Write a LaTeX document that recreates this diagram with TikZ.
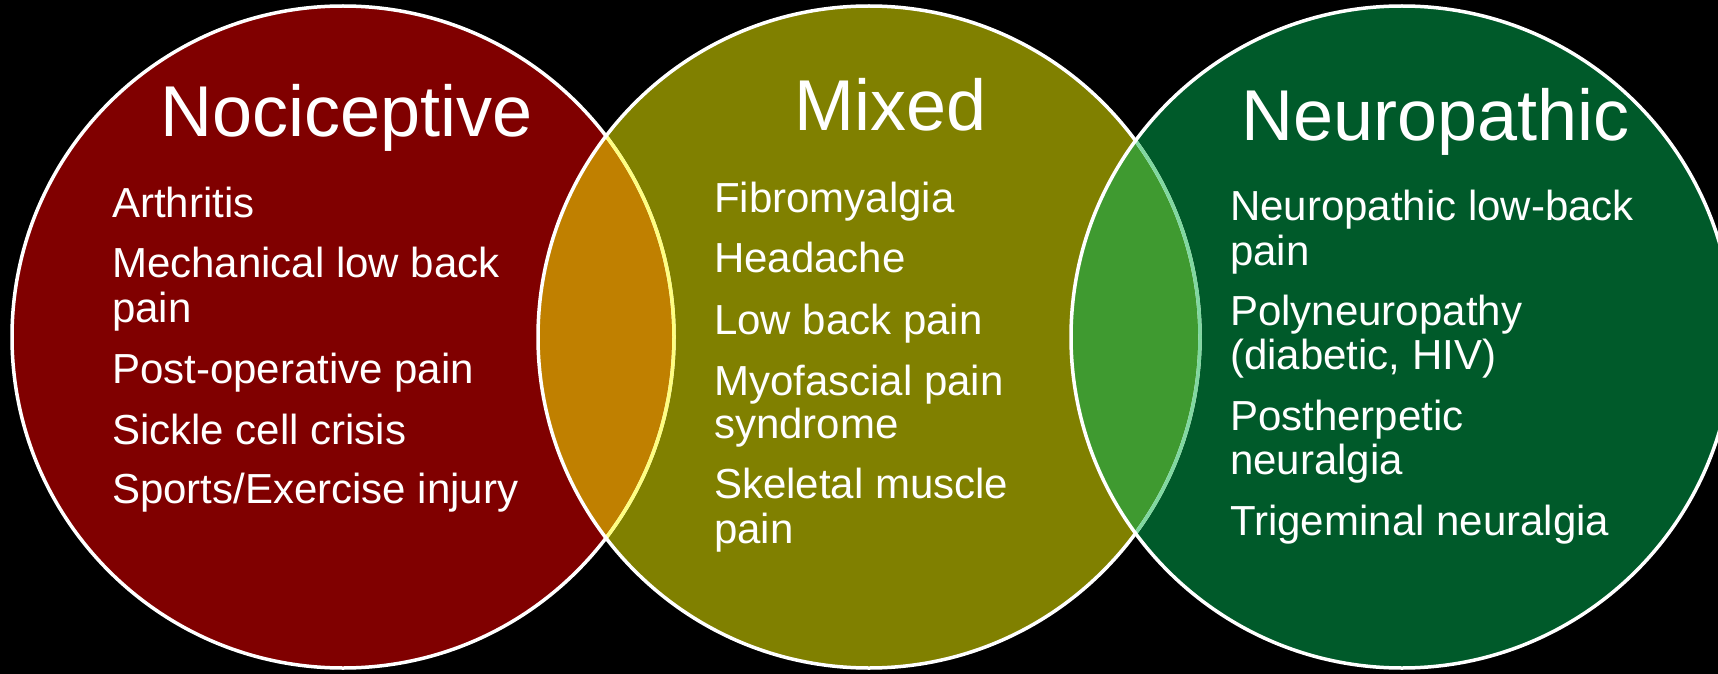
\documentclass[tikz,border=0pt]{standalone}
\usepackage{fontspec}
\setmainfont{Liberation Sans}
\definecolor{nocired}{HTML}{800000}
\definecolor{mixolive}{HTML}{808000}
\definecolor{neurogreen}{HTML}{005A2A}
\definecolor{lensorange}{HTML}{C08000}
\definecolor{lensgreen}{HTML}{3F9A30}
\definecolor{lineyellow}{HTML}{FFFF80}
\definecolor{linegreen}{HTML}{80D8A0}
\tikzset{
  ring/.style={draw=white, line width=3.5pt},
  inring/.style={line width=3.5pt},
  titletext/.style={anchor=base west, inner sep=0pt, text=white, font=\fontsize{72}{80}\selectfont},
  itemtext/.style={anchor=base west, inner sep=0pt, text=white, font=\fontsize{42}{46}\selectfont},
}
\begin{document}
\begin{tikzpicture}[x=1pt,y=-1pt]
\useasboundingbox (0,0) rectangle (1718,674);
\clip (0,0) rectangle (1718,674);
\fill[black] (0,0) rectangle (1718,674);
\coordinate (cL) at (343,337);
\coordinate (cM) at (869,337);
\coordinate (cR) at (1402,337);
% circle fills
\fill[nocired] (cL) circle[radius=331pt];
\fill[mixolive] (cM) circle[radius=331pt];
\fill[neurogreen] (cR) circle[radius=331pt];
% overlaps
\begin{scope}
  \clip (cL) circle[radius=331pt];
  \fill[lensorange] (cM) circle[radius=331pt];
\end{scope}
\begin{scope}
  \clip (cM) circle[radius=331pt];
  \fill[lensgreen] (cR) circle[radius=331pt];
\end{scope}
% outlines
\draw[ring] (cL) circle[radius=331pt];
\draw[ring] (cM) circle[radius=331pt];
\draw[ring] (cR) circle[radius=331pt];
\begin{scope}
  \clip (cM) circle[radius=329pt];
  \draw[inring, draw=lineyellow] (cL) circle[radius=331pt];
\end{scope}
\begin{scope}
  \clip (cR) circle[radius=329pt];
  \draw[inring, draw=linegreen] (cM) circle[radius=331pt];
\end{scope}
% titles
\node[titletext] (tN) at (160,136) {Nociceptive};
\node[titletext] (tM) at (794,131) {Mixed};
\node[titletext] (tR) at (1241,140) {Neuropathic};
% nociceptive items
\node[itemtext] (a1) at (112,217) {Arthritis};
\node[itemtext] (a2) at (112,277) {Mechanical low back};
\node[itemtext] (a3) at (112,322) {pain};
\node[itemtext] (a4) at (112,383) {Post-operative pain};
\node[itemtext] (a5) at (112,444) {Sickle cell crisis};
\node[itemtext] (a6) at (112,503) {Sports/Exercise injury};
% mixed items
\node[itemtext] (b1) at (714,212) {Fibromyalgia};
\node[itemtext] (b2) at (714,272) {Headache};
\node[itemtext] (b3) at (714,334) {Low back pain};
\node[itemtext] (b4) at (714,395) {Myofascial pain};
\node[itemtext] (b5) at (714,438) {syndrome};
\node[itemtext] (b6) at (714,498) {Skeletal muscle};
\node[itemtext] (b7) at (714,543) {pain};
% neuropathic items
\node[itemtext] (c1) at (1230,220) {Neuropathic low-back};
\node[itemtext] (c2) at (1230,265) {pain};
\node[itemtext] (c3) at (1230,325) {Polyneuropathy};
\node[itemtext] (c4) at (1230,369) {(diabetic, HIV)};
\node[itemtext] (c5) at (1230,430) {Postherpetic};
\node[itemtext] (c6) at (1230,474) {neuralgia};
\node[itemtext] (c7) at (1230,535) {Trigeminal neuralgia};
\end{tikzpicture}
\end{document}
